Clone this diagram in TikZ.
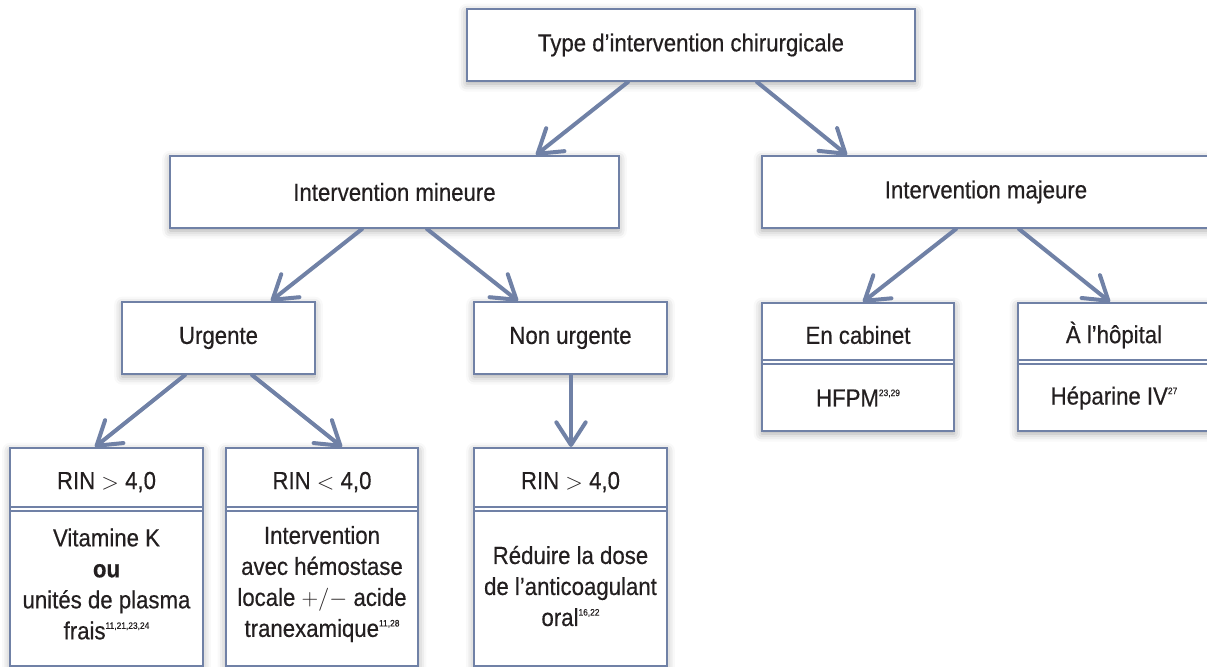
\documentclass[tikz,border=0pt]{standalone}
\usepackage[no-math]{fontspec}
\setmainfont{Liberation Sans}[FakeStretch=0.9, FakeBold=0.45]
\usetikzlibrary{arrows.meta,shadows.blur}
\definecolor{boxblue}{HTML}{7081A6}
\definecolor{ink}{HTML}{231F20}
\newcommand{\refsup}[1]{\raisebox{0.8ex}{\fontsize{7}{8}\selectfont #1}}
\tikzset{
  every node/.style={font=\fontsize{18.5}{23.25}\selectfont, text=ink, inner sep=0pt},
  box/.style={draw=boxblue, line width=1.5pt, fill=white, rectangle,
    blur shadow={shadow xshift=0pt, shadow yshift=-2pt, shadow blur radius=6pt, shadow opacity=35}},
  wide/.style={box, minimum width=336.5pt, minimum height=54pt},
  small/.style={box, minimum width=144.5pt, minimum height=54pt},
  split/.style={box, minimum width=144.5pt, minimum height=96pt},
  tall/.style={box, minimum width=144.5pt, minimum height=163.5pt},
  sepline/.style={draw=boxblue, line width=1.1pt},
  arr/.style={draw=boxblue, line width=3pt, line cap=round,
    -{Straight Barb[length=17pt, width=22pt, round]}},
  txt/.style={align=center}
}
\begin{document}
\begin{tikzpicture}[x=0.75pt, y=-0.75pt]
\useasboundingbox (0,0) rectangle (1207,667);
% boxes
\node[wide] (top) at (691,45) {Type d’intervention chirurgicale};
\node[wide] (mineure) at (394.5,192) {Intervention mineure};
\node[wide] (majeure) at (986,192) {Intervention majeure};
\node[small] (urgente) at (218.5,338) {Urgente};
\node[small] (nonurg) at (570.5,338) {Non urgente};
\node[split] (encab) at (858,367) {};
\node[split] (hopital) at (1114,367) {};
\node[tall] (b1) at (106.5,557) {};
\node[tall] (b2) at (322,557) {};
\node[tall] (b3) at (570.5,557) {};
% separators
\foreach \b in {b1,b2,b3}{
  \draw[sepline] (\b.west |- 0,507) -- (\b.east |- 0,507);
  \draw[sepline] (\b.west |- 0,511) -- (\b.east |- 0,511);
}
\foreach \b in {encab,hopital}{
  \draw[sepline] (\b.west |- 0,360) -- (\b.east |- 0,360);
  \draw[sepline] (\b.west |- 0,364) -- (\b.east |- 0,364);
}
% texts
\node (encabH) at (858,335) {En cabinet};
\node (encabB) at (858,398) {HFPM\refsup{23,29}};
\node (hopH) at (1114,335) {À l’hôpital};
\node (hopB) at (1114,398) {Héparine IV\refsup{27}};
\node (b1H) at (106.5,482) {RIN $>$ 4,0};
\node[txt] (b1B) at (106.5,584) {Vitamine K\\\textbf{ou}\\unités de plasma\\frais\refsup{11,21,23,24}};
\node (b2H) at (322,482) {RIN $<$ 4,0};
\node[txt] (b2B) at (322,584) {Intervention\\avec hémostase\\locale $+/-$ acide\\tranexamique\refsup{11,28}};
\node (b3H) at (570.5,482) {RIN $>$ 4,0};
\node[txt] (b3B) at (570.5,586) {Réduire la dose\\de l’anticoagulant\\oral\refsup{16,22}};
% arrows
\draw[arr] (628,0 |- top.south) -- (536,0 |- mineure.north);
\draw[arr] (757,0 |- top.south) -- (847,0 |- majeure.north);
\draw[arr] (362,0 |- mineure.south) -- (271,0 |- urgente.north);
\draw[arr] (427,0 |- mineure.south) -- (518,0 |- nonurg.north);
\draw[arr] (956,0 |- majeure.south) -- (863,0 |- encab.north);
\draw[arr] (1019,0 |- majeure.south) -- (1110,0 |- hopital.north);
\draw[arr] (185,0 |- urgente.south) -- (95,0 |- b1.north);
\draw[arr] (252,0 |- urgente.south) -- (342,0 |- b2.north);
\draw[arr] (571,0 |- nonurg.south) -- (571,0 |- b3.north);
\end{tikzpicture}
\end{document}
